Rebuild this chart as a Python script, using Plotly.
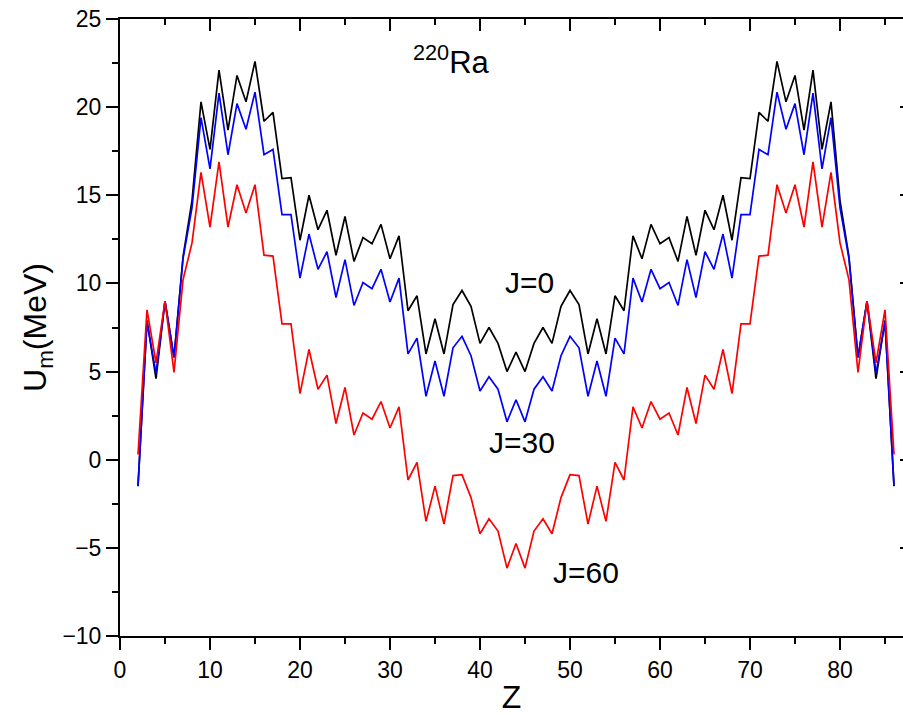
import plotly.graph_objects as go

Z = list(range(2, 87))

U_J0 = [-1.5, 7.9, 4.6, 9.0, 5.8, 11.5, 14.7, 20.3, 17.6, 22.1, 18.7, 21.8, 20.3, 22.6, 19.2, 19.7,
        15.95, 16.0, 12.45, 15.0, 13.05, 14.15, 11.6, 13.8, 11.25, 12.6, 12.25, 13.35, 11.4, 12.7,
        8.45, 9.3, 6.0, 8.0, 6.0, 8.8, 9.6, 8.7, 6.6, 7.5, 6.6, 5.0, 6.1,
        5.0, 6.6, 7.5, 6.6, 8.7, 9.6, 8.8, 6.0, 8.0, 6.0, 9.3, 8.45, 12.7, 11.4, 13.35, 12.25, 12.6,
        11.25, 13.8, 11.6, 14.15, 13.05, 15.0, 12.45, 16.0, 15.95, 19.7, 19.2, 22.6, 20.3, 21.8,
        18.7, 22.1, 17.6, 20.3, 14.7, 11.5, 5.8, 9.0, 4.6, 7.9, -1.5]

U_J30 = [-1.5, 7.8, 4.9, 9.0, 5.8, 11.4, 14.3, 19.4, 16.5, 20.8, 17.3, 20.2, 18.75, 20.85, 17.3, 17.6,
         13.9, 13.9, 10.3, 12.8, 10.8, 11.8, 9.2, 11.35, 8.75, 10.05, 9.7, 10.8, 8.95, 10.3,
         6.0, 6.9, 3.6, 5.6, 3.6, 6.35, 7.0, 5.9, 3.9, 4.7, 4.0, 2.15, 3.4,
         2.15, 4.0, 4.7, 3.9, 5.9, 7.0, 6.35, 3.6, 5.6, 3.6, 6.9, 6.0, 10.3, 8.95, 10.8, 9.7, 10.05,
         8.75, 11.35, 9.2, 11.8, 10.8, 12.8, 10.3, 13.9, 13.9, 17.6, 17.3, 20.85, 18.75, 20.2,
         17.3, 20.8, 16.5, 19.4, 14.3, 11.4, 5.8, 9.0, 4.9, 7.8, -1.5]

U_J60 = [0.3, 8.5, 5.5, 9.0, 4.95, 10.2, 12.3, 16.3, 13.2, 16.9, 13.2, 15.6, 14.0, 15.6, 11.6, 11.55,
         7.7, 7.7, 3.75, 6.25, 4.0, 4.8, 2.05, 4.1, 1.4, 2.65, 2.3, 3.3, 1.8, 3.0,
         -1.15, -0.15, -3.5, -1.5, -3.65, -0.9, -0.85, -2.15, -4.2, -3.35, -4.05, -6.15, -4.75,
         -6.15, -4.05, -3.35, -4.2, -2.15, -0.85, -0.9, -3.65, -1.5, -3.5, -0.15, -1.15, 3.0, 1.8,
         3.3, 2.3, 2.65, 1.4, 4.1, 2.05, 4.8, 4.0, 6.25, 3.75, 7.7, 7.7, 11.55, 11.6, 15.6, 14.0,
         15.6, 13.2, 16.9, 13.2, 16.3, 12.3, 10.2, 4.95, 9.0, 5.5, 8.5, 0.3]

series = [("J=0", U_J0, "#000000"), ("J=30", U_J30, "#0000FF"), ("J=60", U_J60, "#FF0000")]

FONT = "Liberation Sans, Arial, sans-serif"

fig = go.Figure()
for name, vals, col in series:
    fig.add_trace(go.Scatter(x=Z, y=vals, mode="lines", name=name,
                             line=dict(color=col, width=1.7), showlegend=False))

# dummy trace to activate mirrored top/right axes
fig.add_trace(go.Scatter(x=[None], y=[None], xaxis="x2", yaxis="y2",
                         showlegend=False, hoverinfo="skip"))

axis_common = dict(showgrid=False, zeroline=False, linecolor="black", linewidth=2,
                   tickcolor="black", tickwidth=2)

fig.update_layout(
    width=903, height=715,
    margin=dict(l=120, r=0, t=19, b=79, autoexpand=False),
    plot_bgcolor="white", paper_bgcolor="white",
    font=dict(family=FONT, color="black"),
    xaxis=dict(range=[0, 87], showline=True, ticks="outside", ticklen=12, dtick=10, tick0=0,
               minor=dict(dtick=5, ticks="outside", ticklen=6, tickwidth=2, tickcolor="black"),
               tickfont=dict(size=23, family=FONT),
               title=dict(text="Z", font=dict(size=32, family=FONT), standoff=4),
               **axis_common),
    yaxis=dict(range=[-10, 25], showline=True, ticks="outside", ticklen=12, dtick=5, tick0=0,
               minor=dict(dtick=2.5, ticks="outside", ticklen=6, tickwidth=2, tickcolor="black"),
               tickfont=dict(size=23, family=FONT),
               title=dict(text="U<sub>m</sub>(MeV)", font=dict(size=32, family=FONT), standoff=6),
               **axis_common),
    xaxis2=dict(overlaying="x", matches="x", anchor="y", side="top", showline=True,
                ticks="inside", ticklen=12, dtick=10, tick0=0, showticklabels=False,
                minor=dict(dtick=5, ticks="inside", ticklen=6, tickwidth=2, tickcolor="black"),
                **axis_common),
    yaxis2=dict(overlaying="y", matches="y", anchor="x", side="right", showline=False,
                ticks="inside", ticklen=3, dtick=5, tick0=0, showticklabels=False,
                showgrid=False, zeroline=False, tickcolor="black", tickwidth=2),
    showlegend=False,
)

fig.add_annotation(x=0.424, y=0.933, xref="paper", yref="paper", text="<sup>220</sup>Ra",
                   showarrow=False, font=dict(size=31, family=FONT), xanchor="center", yanchor="middle")
fig.add_annotation(x=0.523, y=0.573, xref="paper", yref="paper", text="J=0",
                   showarrow=False, font=dict(size=30, family=FONT), xanchor="center", yanchor="middle")
fig.add_annotation(x=0.514, y=0.314, xref="paper", yref="paper", text="J=30",
                   showarrow=False, font=dict(size=30, family=FONT), xanchor="center", yanchor="middle")
fig.add_annotation(x=0.595, y=0.103, xref="paper", yref="paper", text="J=60",
                   showarrow=False, font=dict(size=30, family=FONT), xanchor="center", yanchor="middle")

fig.write_html("out.html")
